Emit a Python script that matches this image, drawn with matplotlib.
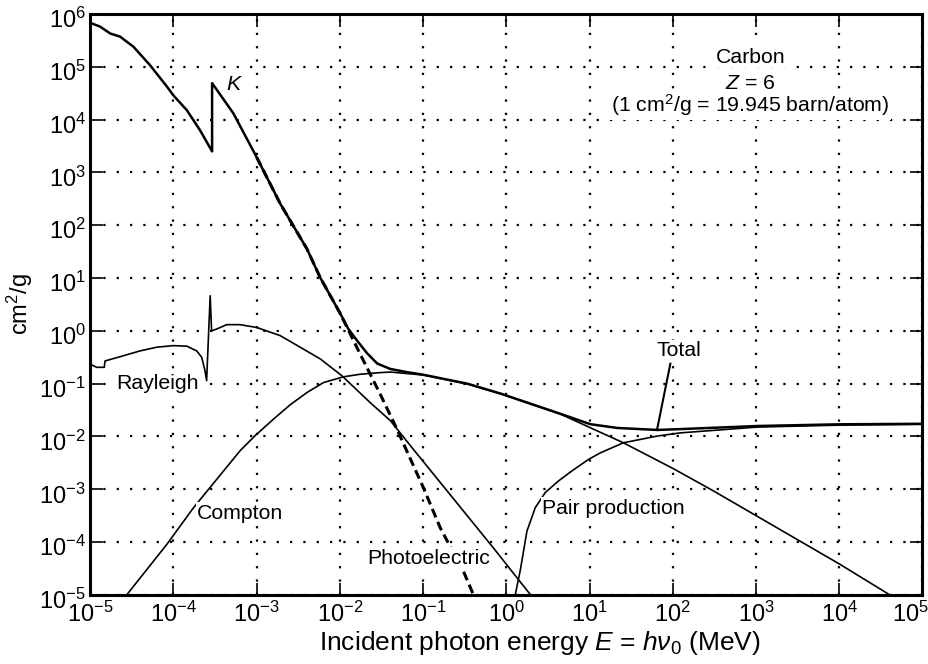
import matplotlib
matplotlib.use("Agg")
import matplotlib.pyplot as plt
import matplotlib.transforms as mtransforms

plt.rcParams['font.family'] = ['Liberation Sans', 'DejaVu Sans']
plt.rcParams['mathtext.fontset'] = 'custom'
plt.rcParams['mathtext.rm'] = 'Liberation Sans'
plt.rcParams['mathtext.it'] = 'Liberation Sans:italic'
plt.rcParams['mathtext.bf'] = 'Liberation Sans:bold'

# Total (MeV, cm2/g)
total_E = [1.0e-5, 1.32e-5, 1.74e-5, 2.29e-5, 3.31e-5, 5.25e-5, 8.41e-5, 1.0e-4, 1.45e-4,
           2.09e-4, 2.92e-4, 2.92e-4, 5.25e-4, 1.0e-3, 1.92e-3, 4.03e-3, 5.81e-3, 1.01e-2,
           1.26e-2, 1.62e-2, 2.14e-2, 2.82e-2, 4.04e-2, 6.31e-2, 0.1, 0.34, 0.847, 4.46,
           10.2, 21.6, 65.3, 123, 1050, 1e4, 1e5]
total_mu = [6.8e5, 5.75e5, 4.27e5, 3.72e5, 2.4e5, 1.07e5, 4.17e4, 2.88e4, 1.51e4,
            6.3e3, 2.5e3, 4.9e4, 1.32e4, 1.95e3, 257, 35.5, 10.2, 2.14,
            1.1, 0.646, 0.372, 0.24, 0.19, 0.166, 0.148, 0.1, 0.0652, 0.0269,
            0.0171, 0.0145, 0.0133, 0.0138, 0.0158, 0.017, 0.0174]

# Photoelectric
pe_E = [1.0e-3, 1.92e-3, 4.03e-3, 5.81e-3, 1.01e-2, 1.76e-2, 3.06e-2, 4.85e-2, 0.101,
        0.161, 0.307, 0.404]
pe_mu = [1.95e3, 257, 35.5, 10.2, 2.14, 0.36, 0.063, 0.0138, 1.07e-3,
         1.86e-4, 2.75e-5, 1.0e-5]

# Compton (incoherent)
compton_E = [2.75e-5, 8.36e-5, 1.75e-4, 6.35e-4, 9.62e-4, 1.6e-3, 2.54e-3, 4.03e-3,
             6.37e-3, 1.11e-2, 1.76e-2, 3.06e-2, 4.04e-2, 0.1, 0.34, 0.847, 4.46, 25.5,
             102, 309, 1.02e4, 4.37e4]
compton_mu = [1.0e-5, 9.1e-5, 4.5e-4, 5.4e-3, 0.0104, 0.0214, 0.040, 0.068,
              0.105, 0.135, 0.151, 0.162, 0.166, 0.146, 0.099, 0.0646, 0.0266, 7.6e-3,
              2.45e-3, 9.3e-4, 3.8e-5, 9.3e-6]

# Rayleigh (coherent)
rayleigh_E = [1.0e-5, 1.2e-5, 1.48e-5, 1.51e-5, 2.29e-5, 3.98e-5, 6.31e-5, 1.0e-4, 1.45e-4,
              1.91e-4, 2.19e-4, 2.4e-4, 2.51e-4, 2.77e-4, 2.88e-4, 3.31e-4, 4.37e-4, 6.31e-4,
              1.0e-3, 1.92e-3, 3.34e-3, 5.81e-3, 1.06e-2, 2.32e-2, 4.04e-2, 7.62e-2, 0.698, 1.94]
rayleigh_mu = [0.234, 0.204, 0.204, 0.269, 0.324, 0.417, 0.49, 0.525, 0.513,
               0.417, 0.316, 0.176, 0.114, 4.62, 1.0, 1.08, 1.31, 1.31,
               1.16, 0.813, 0.49, 0.295, 0.141, 0.0437, 0.02, 5.75e-3, 7.8e-5, 1.02e-5]

# Pair production
pair_E = [1.28, 1.47, 1.77, 2.23, 2.94, 4.26, 6.17, 9.77, 13.5, 25.5, 65.3, 123, 1050,
          1e4, 1e5]
pair_mu = [1.0e-5, 2.9e-5, 1.62e-4, 4.5e-4, 8.7e-4, 1.45e-3, 2.24e-3, 3.7e-3, 4.9e-3,
           7.6e-3, 0.0102, 0.0117, 0.0151, 0.0164, 0.017]

fig = plt.figure(figsize=(9.29, 6.64), dpi=100)
ax = fig.add_axes([0.097, 0.104, 0.896, 0.875])
ax.set_xscale('log')
ax.set_yscale('log')
ax.set_xlim(1e-5, 1e5)
ax.set_ylim(1e-5, 1e6)

ax.plot(rayleigh_E, rayleigh_mu, color='black', lw=1.2)
ax.plot(compton_E, compton_mu, color='black', lw=1.2)
ax.plot(pair_E, pair_mu, color='black', lw=1.2)
ax.plot(pe_E, pe_mu, color='black', lw=2.2, linestyle=(0, (3, 1.6)))
ax.plot(total_E, total_mu, color='black', lw=1.8)

ax.set_xticks([10.0**k for k in range(-5, 6)])
ax.set_yticks([10.0**k for k in range(-5, 7)])
ax.grid(True, which='major', color='black', linestyle=(0, (1, 5)), lw=1.6)
ax.tick_params(which='both', direction='in', top=True, right=True)
ax.tick_params(which='major', length=9, width=1.2, labelsize=17)
ax.tick_params(axis='x', which='major', pad=5)
ax.tick_params(axis='y', which='major', pad=3)
ax.tick_params(which='minor', length=6, width=1.0)
for s in ax.spines.values():
    s.set_linewidth(2.2)

# nudge tick labels like the original
down = mtransforms.ScaledTranslation(0, -4 / 100, fig.dpi_scale_trans)
for lbl in ax.get_yticklabels():
    lbl.set_transform(lbl.get_transform() + down)
last = ax.get_xticklabels()[-1]
last.set_transform(last.get_transform() + mtransforms.ScaledTranslation(-12 / 100, 0, fig.dpi_scale_trans))

ax.set_xlabel(r'Incident photon energy $E$ = $h\nu_0$ (MeV)', fontsize=19)
ax.xaxis.set_label_coords(0.540, -0.058)
ax.set_ylabel(r'cm$^2$/g', fontsize=17, labelpad=3)

box = dict(facecolor='white', edgecolor='none', pad=1)
fs = 15.3
ax.text(5.24e-4, 4.7e4, 'K', style='italic', fontsize=fs, ha='center', va='center')
ax.text(857, 1.53e5, 'Carbon', fontsize=fs, ha='center', va='center', bbox=box)
ax.text(857, 4.9e4, r'$Z$ = 6', fontsize=fs, ha='center', va='center', bbox=box)
ax.text(857, 1.88e4, r'(1 cm$^2$/g = 19.945 barn/atom)', fontsize=fs, ha='center',
        va='center', bbox=box)
ax.text(6.38e-5, 0.0995, 'Rayleigh', fontsize=fs, ha='center', va='center', bbox=box)
ax.text(1.93e-4, 3.55e-4, 'Compton', fontsize=fs, ha='left', va='center', bbox=box)
ax.text(0.1156, 5.0e-5, 'Photoelectric', fontsize=fs, ha='center', va='center', bbox=box)
ax.text(2.71, 4.4e-4, 'Pair production', fontsize=fs, ha='left', va='center', bbox=box)
ax.text(117, 0.42, 'Total', fontsize=fs, ha='center', va='center', bbox=box)
ax.plot([65, 93.5], [0.0139, 0.239], color='black', lw=1.5)

fig.savefig('out.png', dpi=100)
